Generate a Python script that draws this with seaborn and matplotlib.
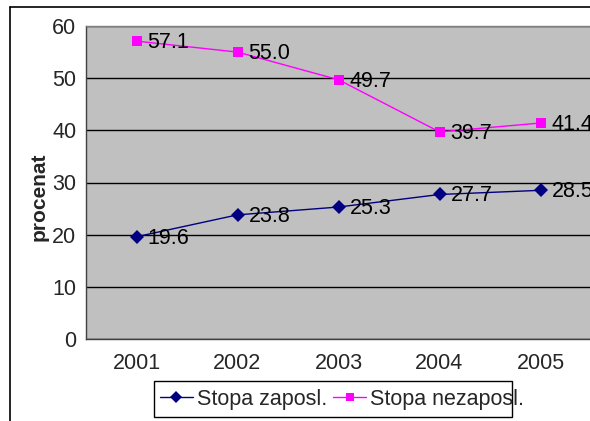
import matplotlib
matplotlib.use("Agg")
import matplotlib.pyplot as plt
from matplotlib.lines import Line2D
from matplotlib.patches import Rectangle
import seaborn as sns
import pandas as pd

years = ["2001", "2002", "2003", "2004", "2005"]
zaposl = [19.6, 23.8, 25.3, 27.7, 28.5]
nezaposl = [57.1, 55.0, 49.7, 39.7, 41.4]
series_names = ["Stopa zaposl.", "Stopa nezaposl."]
yticks = [0, 10, 20, 30, 40, 50, 60]

sns.set_style("white")
plt.rcParams['font.family'] = ['Liberation Sans', 'DejaVu Sans']

FS = 15.5
W, H = 590, 421
fig = plt.figure(figsize=(W / 100, H / 100), dpi=100)
left, right, top, bottom = 86, 591, 26, 339
ax = fig.add_axes([left / W, 1 - bottom / H, (right - left) / W, (bottom - top) / H])
ax.set_facecolor("#C0C0C0")

pos = list(range(len(years)))
df = pd.DataFrame({"x": pos * 2, "y": zaposl + nezaposl,
                   "s": [series_names[0]] * len(years) + [series_names[1]] * len(years)})
colors = {series_names[0]: "#000080", series_names[1]: "#FF00FF"}
markers = {series_names[0]: "D", series_names[1]: "s"}
sns.lineplot(data=df, x="x", y="y", hue="s", style="s", palette=colors, markers=markers,
             dashes=False, markersize=7, linewidth=1, markeredgewidth=0, ax=ax, legend=False, zorder=3)

for vals in (zaposl, nezaposl):
    for i, v in enumerate(vals):
        ax.annotate(f"{v:.1f}", (i, v), xytext=(8, -1), textcoords="offset points",
                    va="center", ha="left", fontsize=FS, color="black", zorder=4,
                    annotation_clip=False)

ax.set_xlim(-0.5, len(years) - 0.5)
ax.set_ylim(0, 60)
ax.set_yticks(yticks)
ax.set_xticks(pos)
ax.set_xticklabels(years)
ax.set_xticks([p - 0.5 for p in range(len(years) + 1)], minor=True)
ax.tick_params(axis="x", which="major", length=0, pad=10, labelsize=FS)
ax.tick_params(axis="x", which="minor", length=5, width=1, color="#404040", direction="out")
ax.tick_params(axis="y", length=5, width=1, color="#404040", direction="out", pad=2, labelsize=FS)
ax.yaxis.grid(True, color="black", linewidth=1)
ax.set_axisbelow(True)
for name, sp in ax.spines.items():
    sp.set_color("#808080")
    sp.set_linewidth(1)
ax.spines["bottom"].set_color("#404040")
ax.spines["left"].set_color("#404040")
ax.set_xlabel("")
ax.set_ylabel("procenat", fontsize=15, fontweight="bold")
ax.yaxis.set_label_coords((49 - left) / (right - left), (bottom - 197) / (bottom - top))

# outer chart border
fig.add_artist(Line2D([10 / W, 10 / W], [0, 1 - 7 / H], color="black", linewidth=1.2, transform=fig.transFigure))
fig.add_artist(Line2D([10 / W, 1], [1 - 7 / H, 1 - 7 / H], color="black", linewidth=1.2, transform=fig.transFigure))

# legend frame (narrower than its content, as in the reference)
fig.add_artist(Rectangle((154 / W, 1 - 417 / H), (512 - 154) / W, (417 - 381) / H,
                         transform=fig.transFigure, facecolor="white", edgecolor="black",
                         linewidth=1, zorder=1))

handles = [Line2D([0], [0], color="#000080", marker="D", markersize=6, linewidth=1, markeredgewidth=0),
           Line2D([0], [0], color="#FF00FF", marker="s", markersize=6, linewidth=1, markeredgewidth=0)]
leg = fig.legend(handles, series_names, loc="center left", bbox_to_anchor=(160 / W, 1 - 399 / H),
                 ncol=2, frameon=False, fontsize=FS,
                 handlelength=1.53, handletextpad=0.19, columnspacing=0.28, borderpad=0,
                 borderaxespad=0)
leg.set_zorder(2)

fig.savefig("out.png", dpi=100)
